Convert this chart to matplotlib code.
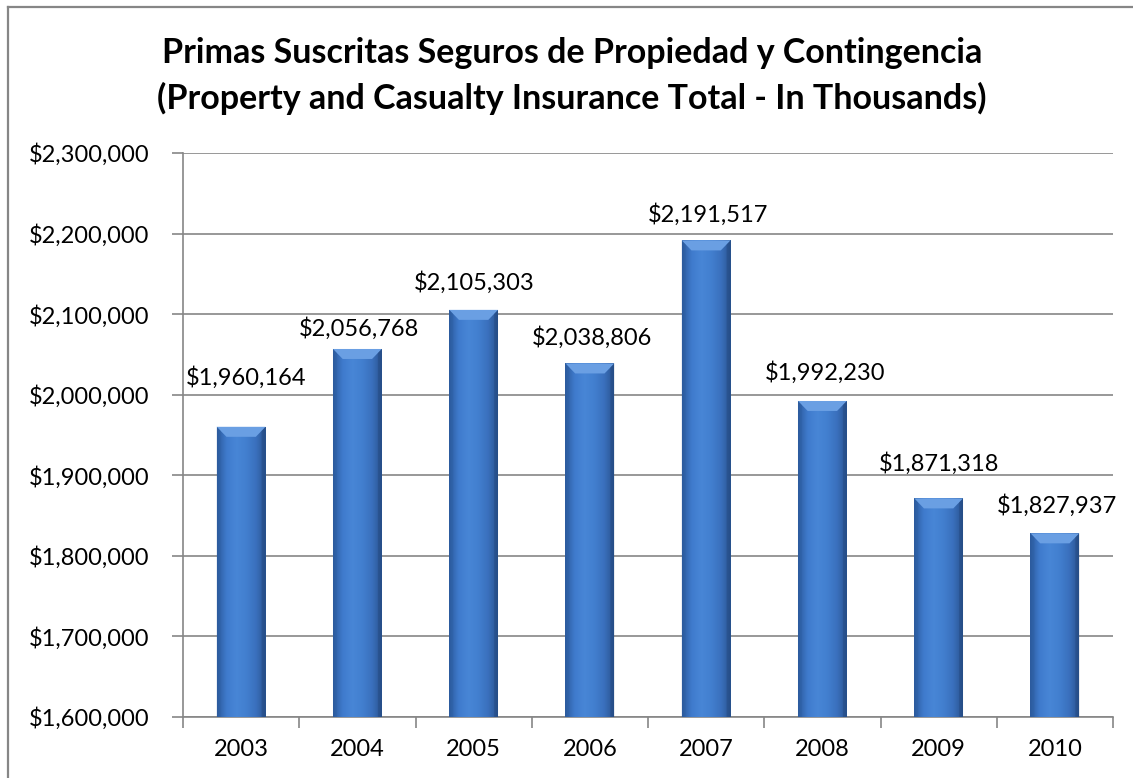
import numpy as np
import matplotlib
matplotlib.use("Agg")
import matplotlib.pyplot as plt
from matplotlib.lines import Line2D
from matplotlib.patches import Polygon
from matplotlib.colors import LinearSegmentedColormap
from matplotlib.ticker import FuncFormatter, FixedLocator

plt.rcParams['font.family'] = ['Lato', 'DejaVu Sans']

# data (thousands of dollars)
years = ['2003', '2004', '2005', '2006', '2007', '2008', '2009', '2010']
premiums = [1960164, 2056768, 2105303, 2038806, 2191517, 1992230, 1871318, 1827937]

title = ('Primas Suscritas Seguros de Propiedad y Contingencia\n'
         '(Property and Casualty Insurance Total - In Thousands)')
y_min, y_max, y_step = 1600000, 2300000, 100000

# data labels were nudged by hand in the original (pixels above bar top / to the right)
label_dy = [49, 20, 27, 26, 26, 28, 35, 28]
label_dx = [5, 2, 1, 2, 2, 3, 0, 2]

W, H = 1133, 778
fig = plt.figure(figsize=(W / 100, H / 100), dpi=100)
grey = '#868686'

# outer chart border (only top and left edges fall inside the picture)
fig.add_artist(Line2D([8 / W, 1], [1 - 7 / H, 1 - 7 / H], color=grey, linewidth=1.6))
fig.add_artist(Line2D([8 / W, 8 / W], [0, 1 - 7 / H], color=grey, linewidth=1.6))

fig.text(0.505, 0.902, title, ha='center', va='center', fontsize=24.5,
         fontweight='bold', linespacing=1.47)

ax = fig.add_axes([183 / W, (H - 717) / H, 930 / W, 564 / H])
x = np.arange(len(years))
bars = ax.bar(x, premiums, width=0.42, bottom=0, color='#3c74c2', zorder=2)

ax.set_xlim(-0.5, len(years) - 0.5)
ax.set_ylim(y_min, y_max)

# bar shading: darker at the edges, lighter toward middle, bevel on top
cmap = LinearSegmentedColormap.from_list('bar', ['#2b5a9c', '#3f7bcd', '#4886d6',
                                                 '#427fcf', '#3a70bd', '#2a5491'])
grad = np.linspace(0, 1, 256).reshape(1, -1)
px_to_data = (y_max - y_min) / 564.0
bev = 10 * px_to_data
for b in bars:
    x0, w = b.get_x(), b.get_width()
    top = b.get_height()
    im = ax.imshow(grad, cmap=cmap, extent=[x0, x0 + w, y_min, top], aspect='auto',
                   zorder=3, interpolation='bicubic')
    im.set_clip_path(b)
    dx = w * 0.2
    ax.add_patch(Polygon([[x0, top], [x0 + w, top], [x0 + w - dx, top - bev], [x0 + dx, top - bev]],
                         closed=True, facecolor='#6a9fe3', edgecolor='none', zorder=4))
    ax.add_patch(Polygon([[x0, top], [x0 + dx * 0.4, top - bev * 0.4], [x0 + dx * 0.4, y_min], [x0, y_min]],
                         closed=True, facecolor='#2d5da0', edgecolor='none', zorder=4, alpha=0.35))
    ax.add_patch(Polygon([[x0 + w, top], [x0 + w - dx * 0.4, top - bev * 0.4], [x0 + w - dx * 0.4, y_min],
                          [x0 + w, y_min]],
                         closed=True, facecolor='#1f4173', edgecolor='none', zorder=4, alpha=0.35))

for xi, v, dy, dxp in zip(x, premiums, label_dy, label_dx):
    ax.annotate('${:,.0f}'.format(v), xy=(xi, v), xytext=(dxp * 0.72, dy * 0.72),
                textcoords='offset points', ha='center', va='center', fontsize=17,
                zorder=5, annotation_clip=False)

money = FuncFormatter(lambda v, p: '${:,.0f}'.format(v))
ax.yaxis.set_major_locator(FixedLocator(np.arange(y_min, y_max + 1, y_step)))
ax.yaxis.set_major_formatter(money)
ax.yaxis.grid(True, color=grey, linewidth=1.2, zorder=0)
ax.set_axisbelow(True)

ax.set_xticks(x)
ax.set_xticklabels(years)
ax.xaxis.set_minor_locator(FixedLocator(np.arange(-0.5, len(years), 1.0)))
ax.tick_params(axis='x', which='major', length=0, pad=16, labelsize=17)
ax.tick_params(axis='x', which='minor', length=8, width=1.2, color=grey, direction='out')
ax.tick_params(axis='y', length=8, width=1.2, color=grey, direction='out', pad=16, labelsize=17)

for s in ['top', 'right']:
    ax.spines[s].set_visible(False)
for s in ['left', 'bottom']:
    ax.spines[s].set_color(grey)
    ax.spines[s].set_linewidth(1.2)

fig.savefig('out.png', dpi=100)
